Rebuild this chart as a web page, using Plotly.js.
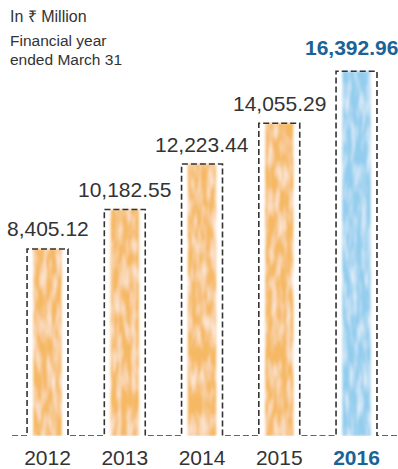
<!DOCTYPE html>
<html>
<head>
<meta charset="utf-8">
<script src="https://cdn.plot.ly/plotly-3.0.1.min.js"></script>
<style>
  html, body { margin: 0; padding: 0; background: #fff; }
  #chart { width: 398px; height: 469px; }
</style>
</head>
<body>
<div id="chart"></div>
<script>
// Revenue, in ₹ million, financial years ended March 31
const years = ['2012', '2013', '2014', '2015', '2016'];
const revenue = [8405.12, 10182.55, 12223.44, 14055.29, 16392.96];

const ORANGE = '#f6b963';
const BLUE = '#93cdee';
const HIGHLIGHT = '#1a6396';
const INK = '#333333';
const NARROW = '"Liberation Sans Narrow", "Arial Narrow", "Liberation Sans", sans-serif';
const SANS = '"Liberation Sans", Arial, Helvetica, sans-serif';

const idx = years.map((_, i) => i);
const last = years.length - 1;
const boxHalf = 0.265;
const xMin = -0.46, xMax = 4.537;

// Dashed outline: runs along the baseline and climbs around each bar
const ox = [xMin], oy = [0];
revenue.forEach((v, i) => {
  ox.push(i - boxHalf, i - boxHalf, i + boxHalf, i + boxHalf);
  oy.push(0, v, v, 0);
});
ox.push(xMax); oy.push(0);

const fmt = v => v.toLocaleString('en-US', { minimumFractionDigits: 2, maximumFractionDigits: 2 });

const fills = {
  type: 'bar',
  x: idx,
  y: revenue,
  width: 0.37,
  marker: {
    color: revenue.map((_, i) => i === last ? BLUE : ORANGE),
    line: { width: 0 }
  },
  hoverinfo: 'skip'
};

const outline = {
  type: 'scatter',
  mode: 'lines',
  x: ox,
  y: oy,
  line: { color: INK, width: 1.6, dash: '6px,3px' },
  hoverinfo: 'skip'
};

const valueLabels = revenue.map((v, i) => ({
  x: i, y: v, xref: 'x', yref: 'y',
  text: i === last ? '<b>' + fmt(v) + '</b>' : fmt(v),
  showarrow: false,
  xanchor: 'center', yanchor: 'middle',
  xshift: i === last ? -5 : 0,
  yshift: i === last ? 24 : 20,
  font: { family: NARROW, size: 21, color: i === last ? HIGHLIGHT : INK }
}));

const headerLabels = [
  { text: 'In ₹ Million', y: 16, size: 16 },
  { text: 'Financial year', y: 40, size: 15.5 },
  { text: 'ended March 31', y: 59, size: 15.5 }
].map(h => ({
  xref: 'paper', yref: 'paper',
  x: -4 / 386, y: 1 + (40 - h.y) / 396,
  xanchor: 'left', yanchor: 'middle',
  text: h.text, showarrow: false,
  font: { family: SANS, size: h.size, color: INK }
}));

const layout = {
  width: 398,
  height: 469,
  margin: { l: 12, r: 0, t: 40, b: 33 },
  paper_bgcolor: '#ffffff',
  plot_bgcolor: '#ffffff',
  showlegend: false,
  xaxis: {
    range: [xMin, xMax],
    tickvals: idx,
    ticktext: years.map((y, i) => i === last ? '<span style="color:' + HIGHLIGHT + '"><b>' + y + '</b></span>' : y),
    tickfont: { family: NARROW, size: 21, color: INK },
    ticklabelstandoff: 7,
    showgrid: false, zeroline: false, showline: false, ticks: '',
    fixedrange: true
  },
  yaxis: {
    range: [0, 17798],
    visible: false,
    fixedrange: true
  },
  annotations: valueLabels.concat(headerLabels)
};

const gd = document.getElementById('chart');
Plotly.newPlot(gd, [fills, outline], layout, { displayModeBar: false, staticPlot: true }).then(() => {
  // Crayon-like grain on the bar fills: fine vertical streaks, softened edges
  const svg = gd.querySelector('svg.main-svg');
  const NS = 'http://www.w3.org/2000/svg';
  let defs = svg.querySelector('defs');
  if (!defs) { defs = document.createElementNS(NS, 'defs'); svg.insertBefore(defs, svg.firstChild); }
  const f = document.createElementNS(NS, 'filter');
  f.setAttribute('id', 'crayon');
  f.setAttribute('x', '-15%'); f.setAttribute('y', '-3%');
  f.setAttribute('width', '130%'); f.setAttribute('height', '106%');
  f.innerHTML =
    '<feTurbulence type="fractalNoise" baseFrequency="0.2 0.04" numOctaves="2" seed="11" result="noise"/>' +
    '<feColorMatrix in="noise" type="matrix" values="0 0 0 0 1  0 0 0 0 1  0 0 0 0 1  1.5 0 0 0 -0.6" result="spots"/>' +
    '<feComposite in="spots" in2="SourceGraphic" operator="atop" result="grain"/>' +
    '<feGaussianBlur in="grain" stdDeviation="0.9"/>';
  defs.appendChild(f);
  gd.querySelectorAll('.barlayer .point path').forEach(p => p.setAttribute('filter', 'url(#crayon)'));
});
</script>
</body>
</html>
